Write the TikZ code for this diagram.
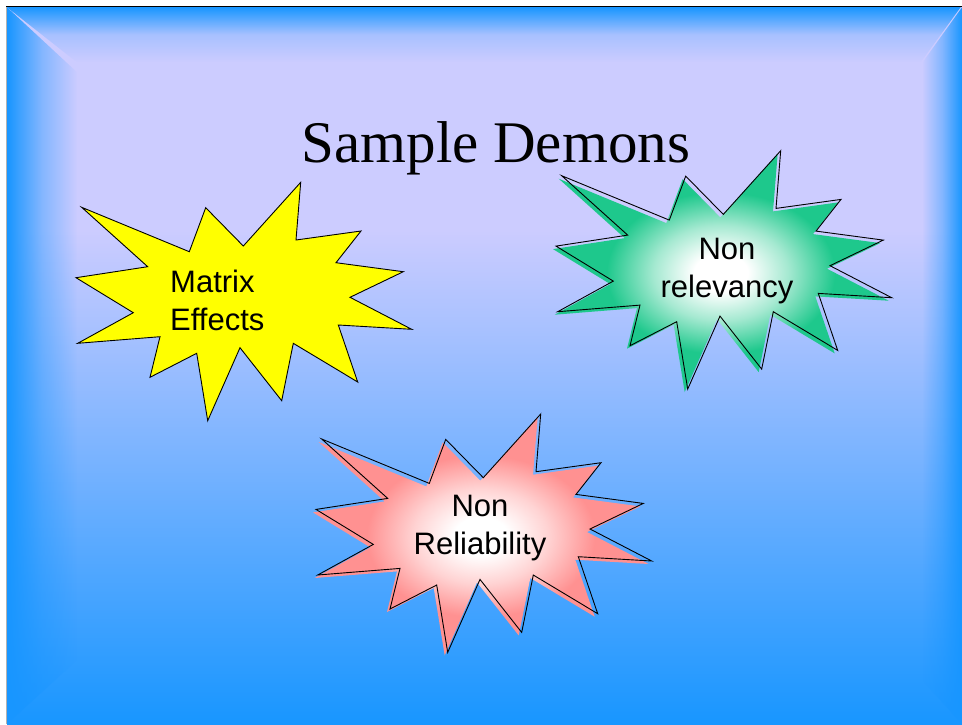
\documentclass[tikz,border=0pt]{standalone}
\usepackage{fontspec}
\setmainfont{Liberation Serif}
\setsansfont{Liberation Sans}
\definecolor{slideblue}{RGB}{24, 150, 255}
\definecolor{lavender1}{RGB}{204, 204, 255}
\definecolor{burstyellow}{RGB}{255, 255, 0}
\definecolor{burstgreen}{RGB}{30, 200, 140}
\definecolor{burstpink}{RGB}{255, 145, 145}
\usetikzlibrary{fadings}

% white = opaque, black = transparent; the ramp sits in the middle half
\pgfdeclareverticalshading{fadetopshade}{100bp}{color(0bp)=(black); color(25bp)=(black); color(50bp)=(black!80); color(75bp)=(white); color(100bp)=(white)}
\pgfdeclarefading{fade top}{\pgfuseshading{fadetopshade}}
\pgfdeclarehorizontalshading{fadeleftshade}{100bp}{color(0bp)=(white); color(25bp)=(white); color(50bp)=(black!60); color(75bp)=(black); color(100bp)=(black)}
\pgfdeclarefading{fade left}{\pgfuseshading{fadeleftshade}}
\pgfdeclarehorizontalshading{faderightshade}{100bp}{color(0bp)=(black); color(25bp)=(black); color(50bp)=(black!60); color(75bp)=(white); color(100bp)=(white)}
\pgfdeclarefading{fade right}{\pgfuseshading{faderightshade}}

% glow of the bursts
\pgfdeclareradialshading{glowgreen}{\pgfpoint{0bp}{0bp}}{color(0bp)=(white); color(4bp)=(white); color(10bp)=(burstgreen!40!white); color(17bp)=(burstgreen); color(50bp)=(burstgreen)}
\pgfdeclareradialshading{glowpink}{\pgfpoint{0bp}{0bp}}{color(0bp)=(white); color(4bp)=(white); color(10bp)=(burstpink!40!white); color(17bp)=(burstpink); color(50bp)=(burstpink)}

\tikzset{
  burst/.pic={
    \path[pic actions] (-162.1,-94.2) -- (-96.1,-34.8) -- (-167.8,-23.8) -- (-110.5,11.2)
      -- (-166.1,41.8) -- (-83.8,35.2) -- (-93.8,75.8) -- (-47.1,51.8)
      -- (-36.1,119.2) -- (-3.8,46.2) -- (37.9,99.2) -- (49.5,41.8)
      -- (113.9,80.5) -- (94.5,23.5) -- (167.9,27.8) -- (106.2,-4.2)
      -- (159.5,-29.8) -- (92.2,-38.8) -- (117.2,-70.5) -- (52.2,-61.5)
      -- (56.9,-119.2) -- (-0.5,-55.5) -- (-38.1,-93.8) -- (-54.5,-49.8) -- cycle;
  },
  burstline/.style={draw=black, line width=0.9pt},
  burstlabel/.style={font=\sffamily\fontsize{31}{38}\selectfont, inner sep=0pt, align=center}
}

\begin{document}
\begin{tikzpicture}[x=1pt, y=-1pt]
  \useasboundingbox[fill=white] (0,0) rectangle (962,724);

  % The slide background
  \fill[lavender1] (7,7) rectangle (962,231);
  \shade[top color=lavender1, bottom color=slideblue] (7,230) rectangle (962,724);
  \fill[slideblue, path fading=fade top] (7,7) -- (962,7) -- (922,62) -- (77,62) -- cycle;
  \fill[slideblue, path fading=fade left] (7,7) -- (77,72) -- (77,660) -- (7,724) -- cycle;
  \fill[slideblue, path fading=fade right] (962,7) -- (962,724) -- (922,680) -- (922,63) -- cycle;
  \draw[black, line width=1.4pt] (6,6.6) -- (962,6.6);
  \draw[gray!60, line width=0.8pt] (6.5,7) -- (6.5,724);

  % Title
  \node[font=\fontsize{59}{70}\selectfont, anchor=base, inner sep=0pt] (title) at (495.8,162.7) {Sample Demons};

  % Matrix effects
  \pic[fill=burstyellow, burstline] (matrix) at (243.8,301.5) {burst};
  \node[burstlabel, align=left, anchor=west] (matrixtext) at (170,300) {Matrix\\Effects};

  % Non relevancy
  \pic[shade, shading=glowgreen] (relevshade) at (720.8,272.9) {burst};
  \pic[burstline] (relev) at (723.8,269.9) {burst};
  \node[burstlabel] (relevtext) at (727,271.5) {Non\\relevancy};

  % Non reliability
  \pic[shade, shading=glowpink] (reliabshade) at (480.8,536.2) {burst};
  \pic[burstline] (reliab) at (483.8,533.2) {burst};
  \node[burstlabel] (reliabtext) at (480,528.3) {Non\\Reliability};
\end{tikzpicture}
\end{document}
